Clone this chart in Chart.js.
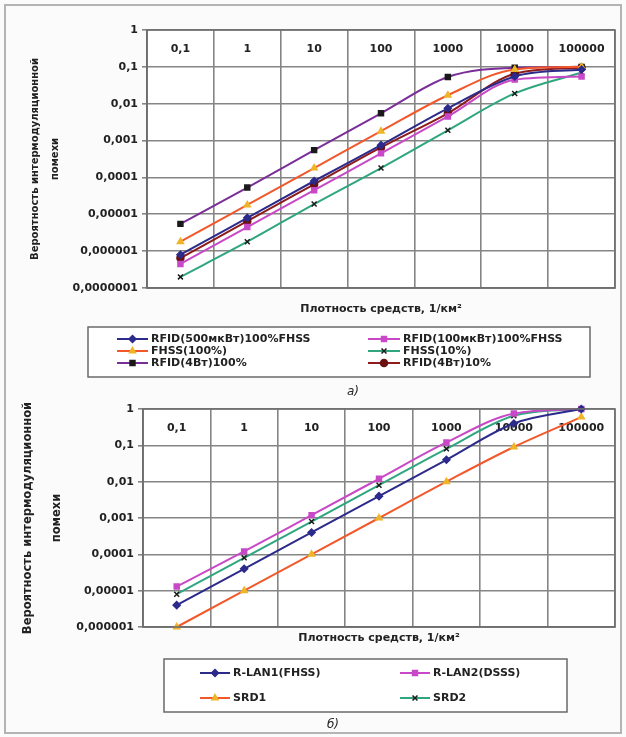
<!DOCTYPE html>
<html lang="ru">
<head>
<meta charset="utf-8">
<title>Вероятность интермодуляционной помехи</title>
<script src="https://cdn.jsdelivr.net/npm/chart.js@4.4.1/dist/chart.umd.min.js"></script>
<style>
  html, body { margin: 0; padding: 0; background: #fff; }
  #page { position: relative; width: 626px; height: 737px; background: #fbfbfb; overflow: hidden; }
  #frame { position: absolute; left: 4px; top: 4px; width: 614px; height: 726px; border: 2px solid #b4b4b4; }
  canvas { position: absolute; left: 0; }
  #chartA { top: 0; }
  #chartB { top: 380px; }
</style>
</head>
<body>
<div id="page">
  <div id="frame"></div>
  <canvas id="chartA" width="626" height="400"></canvas>
  <canvas id="chartB" width="626" height="357"></canvas>
</div>
<script>
// категории оси X (плотность средств, 1/км2)
const densities = ['0,1', '1', '10', '100', '1000', '10000', '100000'];

// деления оси Y
const ticksA = [1, 0.1, 0.01, 0.001, 0.0001, 0.00001, 0.000001, 0.0000001];
const ticksB = [1, 0.1, 0.01, 0.001, 0.0001, 0.00001, 0.000001];

// график а)
const rfid500 = [8e-7, 8e-6, 8e-5, 7.5e-4, 7.5e-3, 0.055, 0.085];
const rfid100 = [4.5e-7, 4.5e-6, 4.5e-5, 4.5e-4, 4.5e-3, 0.045, 0.055];
const fhss100 = [1.8e-6, 1.8e-5, 1.8e-4, 1.8e-3, 0.017, 0.085, 0.1];
const fhss10 = [2e-7, 1.8e-6, 1.9e-5, 1.8e-4, 1.9e-3, 0.019, 0.07];
const rfid4w100 = [5.5e-6, 5.3e-5, 5.5e-4, 5.5e-3, 0.053, 0.095, 0.1];
const rfid4w10 = [6.5e-7, 6.5e-6, 6.5e-5, 6.5e-4, 5.5e-3, 0.065, 0.095];

// график б)
const rlan1 = [4e-6, 4e-5, 4e-4, 4e-3, 0.04, 0.4, 1];
const rlan2 = [1.3e-5, 1.2e-4, 1.2e-3, 0.012, 0.12, 0.75, 1];
const srd1 = [1e-6, 1e-5, 1e-4, 1e-3, 0.01, 0.09, 0.6];
const srd2 = [8e-6, 8e-5, 8e-4, 8e-3, 0.08, 0.65, 1];

const FONT = '"DejaVu Sans", Arial, sans-serif';
const GRID = '#858585';
const INK = '#222';

function fmt(v) {
  if (v >= 1) return '1';
  return v.toFixed(Math.round(-Math.log10(v))).replace('.', ',');
}

function series(label, data, color, pointStyle, pointColor) {
  return {
    label, data,
    borderColor: color, backgroundColor: pointColor,
    pointBackgroundColor: pointColor, pointBorderColor: pointColor,
    pointStyle, pointRadius: 3.5, pointBorderWidth: 1.5,
    borderWidth: 2, cubicInterpolationMode: 'monotone', clip: 8
  };
}

function scalesFor(tickValues, yWidth, xHeight, labelPad, yTitle) {
  const tickFont = { family: FONT, size: 11, weight: 'bold' };
  return {
    x: {
      type: 'category', offset: true,
      grid: { offset: true, color: GRID, lineWidth: 1.6, drawTicks: false },
      border: { color: '#6e6e6e', width: 1.6 },
      ticks: { display: false },
      title: { display: true, text: 'Плотность средств, 1/км²', color: INK, font: tickFont, padding: 0 },
      afterFit: s => { s.height = xHeight; }
    },
    // подписи категорий внутри верхней строки поля
    x2: {
      type: 'category', position: 'top', offset: true,
      grid: { display: false, drawTicks: false },
      border: { display: false },
      ticks: { font: tickFont, color: INK, padding: labelPad, maxRotation: 0, autoSkip: false },
      afterFit: s => { s.height = 0; }
    },
    y: {
      type: 'logarithmic',
      min: tickValues[tickValues.length - 1], max: 1,
      afterBuildTicks: s => { s.ticks = tickValues.map(v => ({ value: v })); },
      afterFit: s => { s.width = yWidth; },
      ticks: { callback: v => fmt(v), font: tickFont, color: INK, padding: 4, autoSkip: false },
      grid: { color: GRID, lineWidth: 1.6, tickLength: 5 },
      border: { color: '#6e6e6e', width: 1.6 },
      title: {
        display: true, text: ['Вероятность интермодуляционной', 'помехи'], color: INK,
        font: { family: FONT, size: yTitle.size, weight: 'bold', lineHeight: yTitle.lh },
        padding: { top: yTitle.pad, bottom: 0 }
      }
    }
  };
}

// белое поле графика, рамка, легенда в рамке и подпись
const sheet = {
  id: 'sheet',
  afterLayout(chart, args, opts) {
    const s = chart.scales.x2;
    const a = chart.chartArea;
    s.top = a.top;
    s.bottom = a.top + opts.labelRow;
  },
  beforeDraw(chart) {
    const { ctx, chartArea: a } = chart;
    ctx.save();
    ctx.fillStyle = '#fff';
    ctx.fillRect(a.left, a.top, a.width, a.height);
    ctx.restore();
  },
  afterDraw(chart, args, opts) {
    const { ctx, chartArea: a } = chart;
    ctx.save();
    ctx.strokeStyle = '#6e6e6e';
    ctx.lineWidth = 1.6;
    ctx.strokeRect(a.left, a.top, a.width, a.height);

    const L = opts.legend;
    ctx.fillStyle = '#fff';
    ctx.fillRect(L.x, L.y, L.w, L.h);
    ctx.strokeStyle = '#6a6a6a';
    ctx.lineWidth = 1.5;
    ctx.strokeRect(L.x, L.y, L.w, L.h);

    ctx.font = 'bold 11px ' + FONT;
    ctx.textBaseline = 'middle';
    ctx.textAlign = 'left';
    chart.data.datasets.forEach((ds, i) => {
      const col = L.cols[i % 2];
      const y = L.rows[Math.floor(i / 2)];
      ctx.strokeStyle = ds.borderColor;
      ctx.lineWidth = 2;
      ctx.beginPath();
      ctx.moveTo(col[0], y);
      ctx.lineTo(col[1], y);
      ctx.stroke();
      ctx.fillStyle = ds.pointBackgroundColor;
      ctx.strokeStyle = ds.pointBorderColor;
      ctx.lineWidth = ds.pointBorderWidth;
      Chart.helpers.drawPoint(ctx, { pointStyle: ds.pointStyle, radius: 3.5, rotation: 0, borderWidth: ds.pointBorderWidth }, (col[0] + col[1]) / 2, y);
      ctx.fillStyle = INK;
      ctx.fillText(ds.label, col[2], y);
    });

    ctx.font = 'italic 12px ' + FONT;
    ctx.textAlign = 'center';
    ctx.fillStyle = INK;
    ctx.fillText(opts.caption.text, opts.caption.x, opts.caption.y);
    ctx.restore();
  }
};

new Chart(document.getElementById('chartA'), {
  type: 'line',
  data: {
    labels: densities,
    datasets: [
      series('RFID(500мкВт)100%FHSS', rfid500, '#2c2a8a', 'rectRot', '#2c2a8a'),
      series('RFID(100мкВт)100%FHSS', rfid100, '#c848c8', 'rect', '#c848c8'),
      series('FHSS(100%)', fhss100, '#f2582a', 'triangle', '#f0b428'),
      series('FHSS(10%)', fhss10, '#2fa680', 'crossRot', '#1a1a1a'),
      series('RFID(4Вт)100%', rfid4w100, '#7a2e98', 'rect', '#1a1a1a'),
      series('RFID(4Вт)10%', rfid4w10, '#8e1c1c', 'circle', '#6a1010')
    ]
  },
  options: {
    responsive: false,
    animation: false,
    layout: { padding: { top: 30, left: 0, right: 11, bottom: 84 } },
    scales: scalesFor(ticksA, 147, 28, 11, { size: 10, lh: 2, pad: 25 }),
    plugins: {
      legend: { display: false },
      tooltip: { enabled: false },
      sheet: {
        labelRow: 37,
        legend: { x: 88, y: 327, w: 502, h: 50, rows: [339, 351, 363], cols: [[117, 148, 151], [368, 400, 403]] },
        caption: { text: 'а)', x: 353, y: 392 }
      }
    }
  },
  plugins: [sheet]
});

new Chart(document.getElementById('chartB'), {
  type: 'line',
  data: {
    labels: densities,
    datasets: [
      series('R-LAN1(FHSS)', rlan1, '#2c2a8a', 'rectRot', '#2c2a8a'),
      series('R-LAN2(DSSS)', rlan2, '#c848c8', 'rect', '#c848c8'),
      series('SRD1', srd1, '#f2582a', 'triangle', '#f0b428'),
      series('SRD2', srd2, '#2fa680', 'crossRot', '#1a1a1a')
    ]
  },
  options: {
    responsive: false,
    animation: false,
    layout: { padding: { top: 29, left: 0, right: 11, bottom: 92 } },
    scales: scalesFor(ticksB, 143, 18, 10, { size: 11.5, lh: 2.5, pad: 14 }),
    plugins: {
      legend: { display: false },
      tooltip: { enabled: false },
      sheet: {
        labelRow: 36,
        legend: { x: 164, y: 279, w: 403, h: 53, rows: [293, 318], cols: [[200, 230, 233], [400, 430, 433]] },
        caption: { text: 'б)', x: 333, y: 345 }
      }
    }
  },
  plugins: [sheet]
});
</script>
</body>
</html>
